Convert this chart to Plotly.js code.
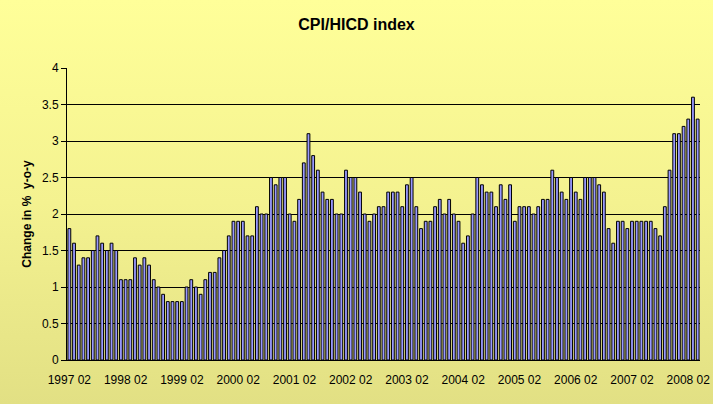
<!DOCTYPE html>
<html>
<head>
<meta charset="utf-8">
<script src="https://cdn.plot.ly/plotly-3.0.1.min.js"></script>
<style>
  html, body { margin: 0; padding: 0; }
  body { width: 713px; height: 404px; background: linear-gradient(to bottom, #FFFF99 0%, #F4F290 50%, #E2E084 100%); }
  #chart { width: 713px; height: 404px; }
</style>
</head>
<body>
<div id="chart"></div>
<script>
// Monthly values (% y-o-y), 1997 02 .. 2008 04
const v1997 = [1.8, 1.6, 1.3, 1.4, 1.4, 1.5, 1.7, 1.6, 1.5, 1.6, 1.5]; // Feb-Dec
const v1998 = [1.1, 1.1, 1.1, 1.4, 1.3, 1.4, 1.3, 1.1, 1.0, 0.9, 0.8, 0.8];
const v1999 = [0.8, 0.8, 1.0, 1.1, 1.0, 0.9, 1.1, 1.2, 1.2, 1.4, 1.5, 1.7];
const v2000 = [1.9, 1.9, 1.9, 1.7, 1.7, 2.1, 2.0, 2.0, 2.5, 2.4, 2.5, 2.5];
const v2001 = [2.0, 1.9, 2.2, 2.7, 3.1, 2.8, 2.6, 2.3, 2.2, 2.2, 2.0, 2.0];
const v2002 = [2.6, 2.5, 2.5, 2.3, 2.0, 1.9, 2.0, 2.1, 2.1, 2.3, 2.3, 2.3];
const v2003 = [2.1, 2.4, 2.5, 2.1, 1.8, 1.9, 1.9, 2.1, 2.2, 2.0, 2.2, 2.0];
const v2004 = [1.9, 1.6, 1.7, 2.0, 2.5, 2.4, 2.3, 2.3, 2.1, 2.4, 2.2, 2.4];
const v2005 = [1.9, 2.1, 2.1, 2.1, 2.0, 2.1, 2.2, 2.2, 2.6, 2.5, 2.3, 2.2];
const v2006 = [2.5, 2.3, 2.2, 2.5, 2.5, 2.5, 2.4, 2.3, 1.8, 1.6, 1.9, 1.9];
const v2007 = [1.8, 1.9, 1.9, 1.9, 1.9, 1.9, 1.8, 1.7, 2.1, 2.6, 3.1, 3.1];
const v2008 = [3.2, 3.3, 3.6, 3.3]; // Jan-Apr

const years = [1997, 1998, 1999, 2000, 2001, 2002, 2003, 2004, 2005, 2006, 2007, 2008];
const firstMonth = [2, 1, 1, 1, 1, 1, 1, 1, 1, 1, 1, 1];
const tickLabels = ["1997 02", "1998 02", "1999 02", "2000 02", "2001 02", "2002 02",
                    "2003 02", "2004 02", "2005 02", "2006 02", "2007 02", "2008 02"];
const yTicks = [0, 0.5, 1, 1.5, 2, 2.5, 3, 3.5, 4];

const yearly = [v1997, v1998, v1999, v2000, v2001, v2002, v2003, v2004, v2005, v2006, v2007, v2008];
const cats = [], vals = [];
yearly.forEach((arr, i) => {
  arr.forEach((v, j) => {
    const m = firstMonth[i] + j;
    cats.push(years[i] + " " + (m < 10 ? "0" + m : "" + m));
    vals.push(v);
  });
});

const FONT = "Arial, 'Liberation Sans', sans-serif";

Plotly.newPlot("chart", [{
  type: "bar",
  x: cats,
  y: vals,
  marker: { color: "#9999FF", line: { color: "#000000", width: 1 } },
  hoverinfo: "x+y"
}], {
  width: 713, height: 404,
  margin: { l: 67, r: 13, t: 68, b: 44 },
  paper_bgcolor: "rgba(0,0,0,0)",
  plot_bgcolor: "rgba(0,0,0,0)",
  bargap: 0.4,
  showlegend: false,
  font: { family: FONT, color: "#000000", size: 12 },
  title: {
    text: "<b>CPI/HICD index</b>",
    font: { family: FONT, size: 16, color: "#000000" },
    x: 0.5, xref: "container", xanchor: "center",
    y: 1 - 24 / 404, yref: "container", yanchor: "middle"
  },
  xaxis: {
    type: "category",
    tickmode: "array",
    tickvals: tickLabels,
    ticktext: tickLabels,
    tickangle: 0,
    ticks: "outside", ticklen: 9, tickcolor: "rgba(0,0,0,0)",
    showgrid: false,
    showline: true, linecolor: "#000000", linewidth: 1,
    tickfont: { family: FONT, size: 12, color: "#000000" },
    range: [-0.5, cats.length - 0.5]
  },
  yaxis: {
    range: [0, 4],
    tickmode: "array",
    tickvals: yTicks,
    ticktext: yTicks.map(String),
    ticks: "outside", ticklen: 5, tickcolor: "#000000", tickwidth: 1,
    showgrid: true, gridcolor: "#000000", gridwidth: 1,
    zeroline: false,
    showline: true, linecolor: "#000000", linewidth: 1,
    tickfont: { family: FONT, size: 12, color: "#000000" },
    title: {
      text: "<b>Change in %  y-o-y</b>",
      font: { family: FONT, size: 12, color: "#000000" },
      standoff: 7
    }
  }
}, { displayModeBar: false, staticPlot: true });
</script>
</body>
</html>
